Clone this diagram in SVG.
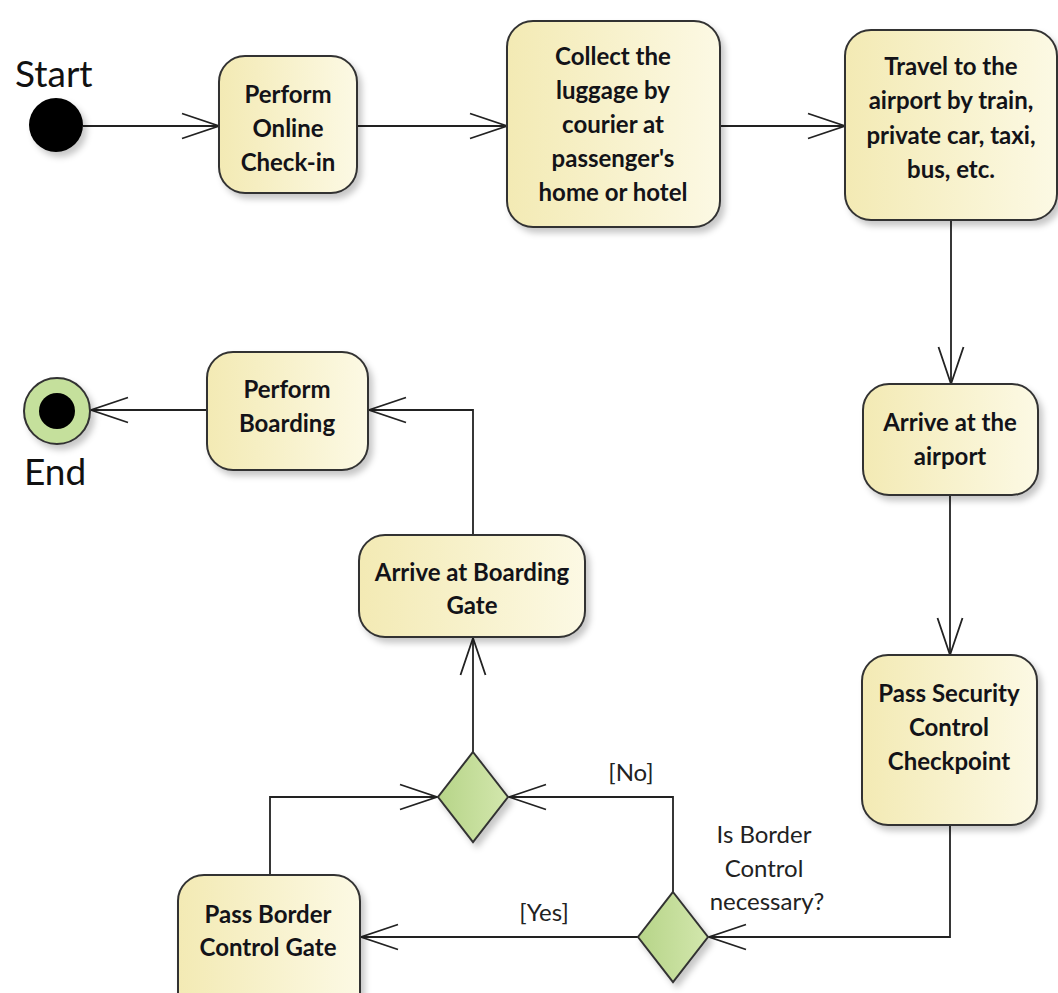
<svg xmlns="http://www.w3.org/2000/svg" width="1058" height="993" viewBox="0 0 1058 993">
<style>
.box{stroke:#333;stroke-width:2;fill:url(#boxg);filter:url(#sh)}
.dia{stroke:#333;stroke-width:2;fill:url(#diag);filter:url(#sh)}
.t{font-family:Lato,"Open Sans","Liberation Sans",sans-serif;font-weight:bold;font-size:24px;fill:#131318;text-anchor:middle}
.lbl{font-family:Lato,"Open Sans","Liberation Sans",sans-serif;font-size:24px;fill:#222;text-anchor:middle}
.big{font-family:Lato,"Open Sans","Liberation Sans",sans-serif;font-size:37px;fill:#111}
.c{fill:none;stroke:#222;stroke-width:1.8;marker-end:url(#ah)}
</style>
<defs>
<linearGradient id="boxg" x1="0" y1="0" x2="1" y2="0">
<stop offset="0" stop-color="#f3eab4"/>
<stop offset="1" stop-color="#fcf9e4"/>
</linearGradient>
<linearGradient id="diag" x1="0" y1="0" x2="1" y2="0">
<stop offset="0" stop-color="#b6d488"/>
<stop offset="1" stop-color="#d3e7ad"/>
</linearGradient>
<filter id="sh" x="-20%" y="-20%" width="150%" height="150%">
<feDropShadow dx="4" dy="5" stdDeviation="3" flood-color="#000" flood-opacity="0.22"/>
</filter>
<marker id="ah" markerUnits="userSpaceOnUse" markerWidth="42" markerHeight="30" viewBox="0 0 42 30" refX="39" refY="15" orient="auto">
<path d="M2,2.5 L39,15 L2,27.5" fill="none" stroke="#222" stroke-width="1.8"/>
</marker>
</defs>

<g id="connectors">
<path class="c" d="M83,126 H219"/>
<path class="c" d="M358,126 H507"/>
<path class="c" d="M720,126 H845"/>
<path class="c" d="M951,220 V384"/>
<path class="c" d="M950,495 V655"/>
<path class="c" d="M950,825 V937 H709"/>
<path class="c" d="M638,937 H361"/>
<path class="c" d="M673,892 V797 H509"/>
<path class="c" d="M270,875 V797 H437"/>
<path class="c" d="M473,752 V638"/>
<path class="c" d="M473,535 V410 H369"/>
<path class="c" d="M207,410 H91"/>
<text class="lbl" x="544" y="921">[Yes]</text>
<text class="lbl" x="631" y="781">[No]</text>
<text class="lbl" x="764" y="843">Is Border</text>
<text class="lbl" x="764" y="877">Control</text>
<text class="lbl" x="767" y="910">necessary?</text>
</g>

<g id="start">
<circle cx="56" cy="125" r="27" fill="#000" filter="url(#sh)"/>
<text class="big" x="15" y="87">Start</text>
</g>

<g id="checkin">
<rect class="box" x="219" y="56" width="138" height="137" rx="26"/>
<text class="t" x="288" y="103">Perform</text>
<text class="t" x="288" y="137">Online</text>
<text class="t" x="288" y="171">Check-in</text>
</g>

<g id="collect">
<rect class="box" x="507" y="21" width="213" height="206" rx="26"/>
<text class="t" x="613" y="65">Collect the</text>
<text class="t" x="613" y="99">luggage by</text>
<text class="t" x="613" y="133">courier at</text>
<text class="t" x="613" y="167">passenger's</text>
<text class="t" x="613" y="201">home or hotel</text>
</g>

<g id="travel">
<rect class="box" x="845" y="30" width="212" height="190" rx="26"/>
<text class="t" x="951" y="75">Travel to the</text>
<text class="t" x="951" y="109">airport by train,</text>
<text class="t" x="951" y="144">private car, taxi,</text>
<text class="t" x="951" y="178">bus, etc.</text>
</g>

<g id="arrive-airport">
<rect class="box" x="863" y="384" width="175" height="111" rx="26"/>
<text class="t" x="950" y="431">Arrive at the</text>
<text class="t" x="950" y="465">airport</text>
</g>

<g id="security">
<rect class="box" x="862" y="655" width="175" height="170" rx="26"/>
<text class="t" x="949" y="702">Pass Security</text>
<text class="t" x="949" y="736">Control</text>
<text class="t" x="949" y="770">Checkpoint</text>
</g>

<g id="decision">
<polygon class="dia" points="673,892 708,937 673,982 638,937"/>
</g>

<g id="border">
<rect class="box" x="178" y="875" width="182" height="150" rx="26"/>
<text class="t" x="268" y="923">Pass Border</text>
<text class="t" x="268" y="956">Control Gate</text>
</g>

<g id="merge">
<polygon class="dia" points="473,752 508,797 473,842 438,797"/>
</g>

<g id="boarding-gate">
<rect class="box" x="359" y="535" width="226" height="102" rx="26"/>
<text class="t" x="472" y="581">Arrive at Boarding</text>
<text class="t" x="472" y="614">Gate</text>
</g>

<g id="boarding">
<rect class="box" x="207" y="352" width="161" height="118" rx="26"/>
<text class="t" x="287" y="398">Perform</text>
<text class="t" x="287" y="432">Boarding</text>
</g>

<g id="end">
<circle cx="57" cy="411" r="33" fill="#c5e09c" stroke="#333" stroke-width="2" filter="url(#sh)"/>
<circle cx="57" cy="411" r="18" fill="#000"/>
<text class="big" x="24" y="485">End</text>
</g>
</svg>
